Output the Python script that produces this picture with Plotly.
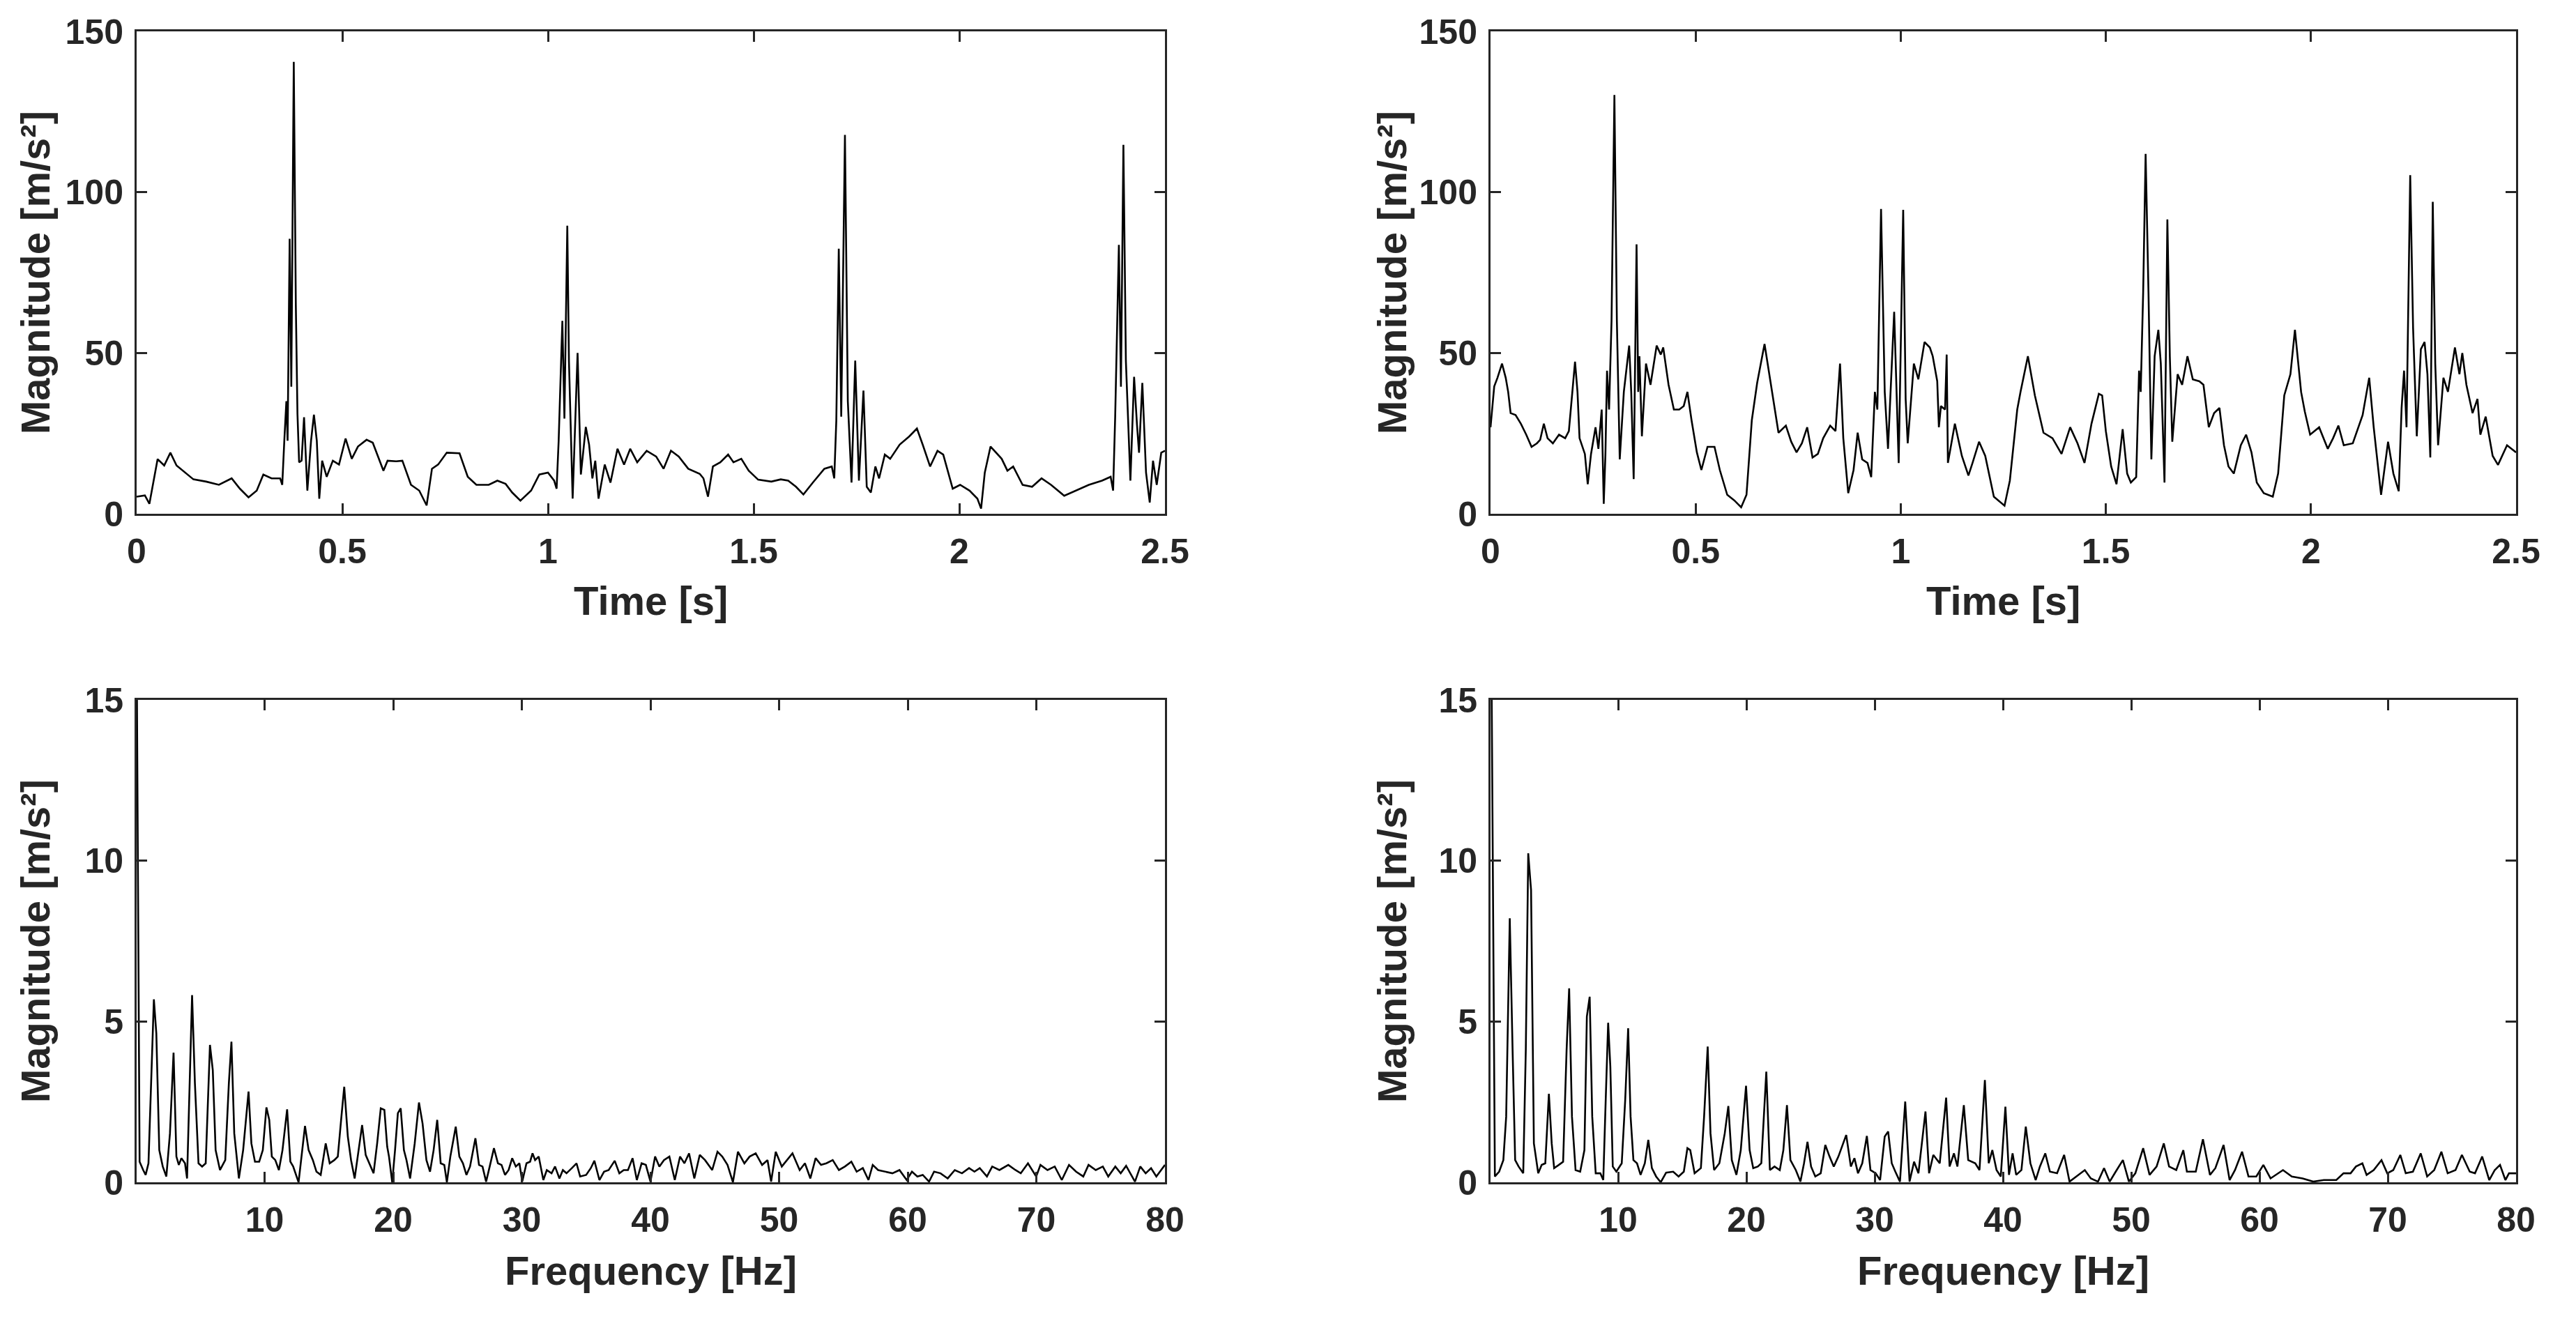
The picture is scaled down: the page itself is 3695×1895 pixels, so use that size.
import plotly.graph_objects as go

# ---------------- data ----------------
t_left = [0, 0.02, 0.031, 0.041, 0.051, 0.067, 0.082, 0.097, 0.118, 0.138, 0.169, 0.2, 0.231, 0.251, 0.272,
          0.292, 0.308, 0.328, 0.349, 0.354, 0.359, 0.364, 0.367, 0.372, 0.376, 0.382, 0.387, 0.391, 0.395,
          0.401, 0.407, 0.415, 0.424, 0.431, 0.438, 0.444, 0.451, 0.462, 0.477, 0.492, 0.508, 0.523, 0.538,
          0.559, 0.574, 0.59, 0.6, 0.61, 0.631, 0.646, 0.667, 0.687, 0.705, 0.718, 0.733, 0.754, 0.785, 0.805,
          0.826, 0.856, 0.877, 0.897, 0.913, 0.933, 0.959, 0.979, 1.0, 1.015, 1.021, 1.026, 1.035, 1.04, 1.047,
          1.051, 1.06, 1.072, 1.08, 1.092, 1.1, 1.108, 1.115, 1.123, 1.138, 1.152, 1.169, 1.185, 1.2, 1.217,
          1.24, 1.263, 1.281, 1.299, 1.318, 1.341, 1.369, 1.378, 1.389, 1.401, 1.419, 1.438, 1.451, 1.47,
          1.488, 1.511, 1.543, 1.566, 1.584, 1.603, 1.621, 1.644, 1.672, 1.69, 1.696, 1.701, 1.707, 1.713,
          1.722, 1.729, 1.738, 1.747, 1.756, 1.767, 1.775, 1.785, 1.796, 1.805, 1.819, 1.832, 1.855, 1.878,
          1.897, 1.911, 1.929, 1.947, 1.961, 1.984, 2.002, 2.025, 2.044, 2.053, 2.062, 2.076, 2.09, 2.103,
          2.117, 2.131, 2.154, 2.177, 2.2, 2.223, 2.255, 2.283, 2.315, 2.347, 2.368, 2.374, 2.379, 2.388,
          2.393, 2.399, 2.405, 2.416, 2.425, 2.432, 2.437, 2.445, 2.454, 2.463, 2.471, 2.48, 2.491, 2.5]
acc_left = [5.3, 5.7, 3.1, 10, 17, 15, 19, 15, 12.8, 10.7, 10, 9, 11, 7.8, 5.1,
            7.2, 12.2, 11, 11, 9, 22.7, 35, 22.7, 85.5, 39.5, 140.5, 65, 31, 16,
            16.5, 30, 7.2, 22.7, 30.8, 22.7, 4.7, 16.5, 11.5, 16.5, 15.3, 23.4, 17.1, 20.9,
            23, 22.1, 16.5, 13.4, 16.5, 16.3, 16.5, 9, 7.2, 2.6, 14, 15.3, 19, 18.8, 11.5,
            9, 9, 10.3, 9.3, 6.6, 4.1, 7.2, 12.2, 12.8, 10.3, 7.8, 22.7, 60, 29.6, 89.6,
            47.6, 4.7, 50, 12.2, 27, 21.5, 11, 16.5, 4.7, 15.3, 9.7, 20.2, 15.3, 20.2, 16,
            19.6, 17.8, 14, 19.6, 17.8, 14, 12.4, 11, 5.3, 14.7, 16, 18.4, 16, 17.1,
            13.4, 10.6, 10, 10.7, 10.3, 8.4, 6, 9.7, 14, 14.7, 11, 28.9, 82.4, 30.2,
            117.8, 35, 9.7, 47.6, 10.3, 38.3, 8.4, 6.6, 14.7, 11, 18.4, 17.1, 21.5, 24,
            26.5, 21.5, 14.7, 19.6, 18.4, 7.8, 9, 7.2, 4.7, 1.6, 12.8, 20.9, 19, 17.1,
            13.4, 14.7, 9, 8.4, 11, 9, 5.6, 7.2, 9, 10.3, 11.5, 7.2, 30.2, 83.6,
            39.5, 114.7, 47.6, 10.3, 42.6, 27.7, 19, 40.7, 12.8, 3.5, 16.5, 9, 19, 19.6]

t_right = [0, 0.009, 0.017, 0.028, 0.037, 0.043, 0.049, 0.061, 0.074, 0.087, 0.1, 0.113, 0.121, 0.13, 0.139,
           0.152, 0.167, 0.182, 0.191, 0.199, 0.206, 0.212, 0.217, 0.23, 0.237, 0.245, 0.256, 0.263, 0.271,
           0.276, 0.28, 0.284, 0.289, 0.295, 0.302, 0.308, 0.315, 0.325, 0.332, 0.338, 0.343, 0.349, 0.356,
           0.36, 0.363, 0.369, 0.379, 0.39, 0.405, 0.415, 0.421, 0.434, 0.447, 0.46, 0.471, 0.48, 0.49, 0.503,
           0.514, 0.529, 0.546, 0.559, 0.577, 0.594, 0.611, 0.624, 0.637, 0.65, 0.668, 0.688, 0.702, 0.72,
           0.733, 0.746, 0.759, 0.772, 0.785, 0.798, 0.811, 0.828, 0.841, 0.852, 0.86, 0.872, 0.885, 0.895,
           0.906, 0.919, 0.928, 0.937, 0.943, 0.952, 0.961, 0.969, 0.984, 0.995, 1.006, 1.012, 1.017, 1.032,
           1.043, 1.058, 1.071, 1.078, 1.089, 1.093, 1.098, 1.108, 1.112, 1.115, 1.132, 1.149, 1.165, 1.175,
           1.191, 1.206, 1.227, 1.253, 1.266, 1.284, 1.292, 1.31, 1.327, 1.348, 1.37, 1.392, 1.413, 1.431,
           1.448, 1.465, 1.483, 1.491, 1.5, 1.513, 1.526, 1.541, 1.552, 1.561, 1.574, 1.581, 1.585, 1.591,
           1.597, 1.604, 1.611, 1.619, 1.628, 1.634, 1.643, 1.65, 1.656, 1.662, 1.675, 1.686, 1.699, 1.712,
           1.728, 1.738, 1.751, 1.764, 1.777, 1.788, 1.799, 1.812, 1.829, 1.842, 1.855, 1.868, 1.885, 1.907,
           1.92, 1.935, 1.95, 1.961, 1.97, 1.976, 1.985, 1.998, 2.02, 2.041, 2.054, 2.067, 2.08, 2.102, 2.126,
           2.142, 2.153, 2.171, 2.188, 2.201, 2.214, 2.221, 2.227, 2.233, 2.242, 2.249, 2.258, 2.268, 2.277,
           2.284, 2.291, 2.297, 2.303, 2.31, 2.323, 2.334, 2.351, 2.362, 2.369, 2.379, 2.394, 2.406, 2.413,
           2.426, 2.443, 2.456, 2.478, 2.5]
acc_right = [26.9, 39.6, 42.3, 46.7, 42.3, 37.9, 31.3, 30.7, 28, 24.6, 20.8, 21.9, 23, 28, 23.5,
             21.9, 24.6, 23.5, 25.7, 37.9, 47.3, 37.9, 23.5, 18.6, 9.2, 18.6, 26.9, 20.2, 32.4,
             3.1, 18, 44.5, 32.4, 60, 130.2, 60, 16.9, 37.9, 45.6, 52.3, 37.9, 10.8, 83.8,
             37.9, 49, 24.1, 46.7, 40.1, 52.3, 49.5, 51.7, 40.1, 32.4, 32.4, 33.5, 37.9, 29.1, 19.1,
             13.6, 20.8, 20.8, 13.6, 5.9, 4.2, 2, 5.9, 29.1, 40.7, 52.8, 36.8, 25.2, 27.4,
             22.4, 19.1, 21.9, 26.9, 17.5, 18.6, 23.5, 27.4, 25.7, 46.7, 23.5, 6.4, 13.6, 25.2,
             16.9, 15.8, 11.4, 37.9, 32.4, 94.8, 37.9, 20.2, 62.8, 15.8, 94.5, 35.7, 21.9, 46.7,
             41.8, 53.4, 51.7, 49, 41.2, 26.9, 33.5, 32.4, 49.5, 15.8, 28, 18, 11.9, 15.8,
             22.4, 18, 5.3, 2.5, 10.3, 32.4, 37.9, 49, 36.8, 25.2, 23.5, 18.6, 26.9, 21.9,
             15.8, 28, 37.3, 36.8, 25.7, 14.7, 9.2, 26.3, 12.5, 9.7, 11.4, 44.5, 37.9, 68.8,
             111.9, 68.8, 16.9, 49, 57.2, 46.7, 9.7, 91.5, 49, 22.4, 43.4, 40.1, 49, 41.8,
             41.2, 40.1, 26.9, 31.3, 32.9, 21.3, 14.7, 12.5, 21.3, 24.6, 19.1, 9.7, 6.4, 5.3,
             12.5, 36.8, 43.4, 57.2, 45.6, 37.9, 31.8, 24.6, 26.9, 20.2, 23.5, 27.4, 21.3, 21.9, 30.7,
             42.3, 26.9, 5.9, 22.4, 12.5, 7, 32.9, 44.5, 26.9, 105.3, 57.8, 24.1, 51.2, 53.4,
             43.4, 17.5, 97, 46.7, 21.3, 42.3, 37.9, 51.7, 43.4, 50, 40.1, 31.3, 35.7, 24.6,
             30.2, 18, 15.2, 21.3, 19.1]

f_left = [0.06, 0.28, 0.56, 0.75, 0.97, 1.17, 1.39, 1.58, 1.81, 2.08, 2.36, 2.64, 2.92, 3.14, 3.33, 3.53,
          3.81, 3.97, 4.17, 4.36, 4.58, 4.86, 5.14, 5.42, 5.75, 5.97, 6.19, 6.53, 6.94, 7.22, 7.42, 7.64,
          8.0, 8.33, 8.75, 8.97, 9.25, 9.58, 9.86, 10.14, 10.36, 10.56, 10.83, 11.11, 11.39, 11.75, 12.0,
          12.22, 12.64, 12.92, 13.14, 13.42, 13.75, 14.03, 14.36, 14.75, 15.06, 15.42, 15.69, 15.97, 16.19,
          16.47, 16.72, 17.0, 17.31, 17.58, 17.86, 18.14, 18.47, 18.75, 19.03, 19.31, 19.53, 19.67, 19.92,
          20.14, 20.36, 20.58, 20.83, 21.03, 21.31, 21.67, 22.0, 22.28, 22.58, 22.86, 23.14, 23.42, 23.69,
          23.97, 24.17, 24.44, 24.86, 25.14, 25.42, 25.69, 25.97, 26.39, 26.67, 26.94, 27.22, 27.5, 27.83,
          28.14, 28.42, 28.69, 28.97, 29.25, 29.53, 29.81, 30.03, 30.36, 30.64, 30.83, 31.03, 31.31, 31.67,
          31.94, 32.31, 32.58, 32.92, 33.19, 33.47, 33.89, 34.25, 34.53, 35.0, 35.36, 35.64, 36.03, 36.39,
          36.75, 37.22, 37.58, 37.92, 38.25, 38.61, 38.94, 39.31, 39.64, 40.0, 40.36, 40.69, 41.05, 41.47,
          41.89, 42.3, 42.64, 43.0, 43.41, 43.83, 44.24, 44.8, 45.21, 45.58, 45.99, 46.41, 46.8, 47.3, 47.71,
          48.18, 48.68, 49.1, 49.38, 49.74, 50.21, 50.62, 51.04, 51.6, 52.01, 52.43, 52.84, 53.26, 53.68,
          54.17, 54.65, 55.12, 55.62, 56.03, 56.51, 56.95, 57.28, 57.7, 58.25, 58.81, 59.36, 59.92, 60.33,
          60.75, 61.17, 61.66, 62.05, 62.55, 63.11, 63.66, 64.22, 64.77, 65.19, 65.6, 66.16, 66.57, 67.13,
          67.82, 68.38, 68.79, 69.35, 69.99, 70.32, 70.87, 71.43, 71.98, 72.54, 73.09, 73.65, 74.06, 74.62,
          75.17, 75.59, 76.14, 76.56, 76.98, 77.67, 78.08, 78.5, 78.92, 79.33, 80.0]
spec_left = [16, 0.64, 0.38, 0.23, 0.59, 3.08, 5.69, 4.63, 1.0, 0.49, 0.18, 1.52, 4.03, 0.8, 0.54, 0.75,
             0.59, 0.12, 3.08, 5.82, 3.08, 0.59, 0.49, 0.59, 4.27, 3.49, 1.0, 0.38, 0.69, 3.08, 4.37, 1.52,
             0.12, 1.0, 2.82, 1.21, 0.64, 0.64, 1.0, 2.33, 1.94, 0.8, 0.69, 0.38, 1.0, 2.27, 0.64,
             0.49, 0.0, 1.0, 1.75, 1.0, 0.69, 0.33, 0.23, 1.21, 0.59, 0.69, 0.8, 2.04, 2.97,
             1.42, 0.69, 0.12, 1.0, 1.78, 0.85, 0.59, 0.28, 1.21, 2.3, 2.25, 1.11, 0.8, 0.0,
             1.0, 2.15, 2.3, 1.0, 0.69, 0.12, 1.21, 2.48, 1.83, 0.69, 0.33, 1.0, 1.94, 0.59,
             0.54, 0.0, 0.8, 1.73, 0.8, 0.59, 0.23, 0.49, 1.37, 0.54, 0.49, 0.02, 0.49, 1.06,
             0.59, 0.54, 0.23, 0.38, 0.75, 0.49, 0.59, 0.02, 0.59, 0.64, 0.9, 0.69, 0.8, 0.07,
             0.38, 0.28, 0.49, 0.12, 0.38, 0.28, 0.44, 0.59, 0.18, 0.23, 0.44, 0.67, 0.07, 0.33,
             0.38, 0.67, 0.28, 0.38, 0.38, 0.75, 0.07, 0.59, 0.54, 0.02, 0.8, 0.49, 0.69, 0.8,
             0.07, 0.8, 0.59, 0.9, 0.12, 0.85, 0.69, 0.38, 0.95, 0.8, 0.54, 0.0, 0.95, 0.59, 0.8,
             0.9, 0.54, 0.69, 0.02, 0.95, 0.49, 0.69, 0.9, 0.38, 0.59, 0.12, 0.75, 0.54, 0.59,
             0.69, 0.38, 0.49, 0.64, 0.33, 0.44, 0.07, 0.54, 0.38, 0.33, 0.28, 0.38, 0.07, 0.33,
             0.18, 0.23, 0.02, 0.33, 0.28, 0.12, 0.38, 0.28, 0.44, 0.33, 0.44, 0.18, 0.49, 0.38,
             0.54, 0.38, 0.28, 0.59, 0.18, 0.54, 0.38, 0.49, 0.07, 0.54, 0.33, 0.18, 0.54, 0.38,
             0.49, 0.18, 0.49, 0.28, 0.51, 0.02, 0.49, 0.28, 0.44, 0.18, 0.54]

f_right = [0.06, 0.39, 0.72, 1.05, 1.27, 1.55, 1.77, 1.97, 2.24, 2.6, 2.8, 2.99, 3.21, 3.43, 3.77, 4.04,
           4.32, 4.6, 4.82, 5.01, 5.37, 5.71, 5.98, 6.18, 6.4, 6.68, 7.04, 7.37, 7.56, 7.78, 7.98, 8.25,
           8.61, 8.84, 9.03, 9.22, 9.39, 9.58, 9.86, 10.28, 10.55, 10.78, 10.97, 11.19, 11.47, 11.75, 12.08,
           12.35, 12.63, 12.96, 13.32, 13.74, 14.29, 14.71, 15.12, 15.4, 15.62, 15.96, 16.45, 16.7, 16.98,
           17.2, 17.48, 17.89, 18.31, 18.59, 18.86, 19.22, 19.56, 19.97, 20.25, 20.53, 20.89, 21.16, 21.55,
           21.83, 22.19, 22.6, 22.88, 23.16, 23.43, 23.85, 24.21, 24.49, 24.76, 25.04, 25.37, 25.79, 26.15,
           26.48, 26.81, 27.17, 27.78, 28.14, 28.42, 28.7, 29.03, 29.39, 29.67, 30.08, 30.42, 30.78, 31.05,
           31.33, 31.61, 31.97, 32.38, 32.72, 33.07, 33.41, 33.96, 34.24, 34.57, 35.07, 35.57, 35.84, 36.18,
           36.45, 36.95, 37.29, 37.84, 38.17, 38.59, 38.89, 39.17, 39.5, 39.83, 40.19, 40.47, 40.75, 41.03,
           41.44, 41.78, 42.14, 42.55, 42.88, 43.3, 43.66, 44.22, 44.77, 45.19, 45.74, 46.38, 46.85, 47.41,
           47.88, 48.32, 48.79, 49.35, 49.82, 50.32, 50.93, 51.43, 51.98, 52.54, 52.95, 53.51, 54.06, 54.34,
           55.03, 55.59, 56.14, 56.56, 57.2, 57.67, 58.09, 58.64, 59.14, 59.75, 60.3, 60.86, 61.83, 62.52,
           63.36, 64.19, 65.02, 65.99, 66.55, 67.1, 67.52, 68.02, 68.35, 68.9, 69.51, 69.96, 70.43, 70.98,
           71.4, 71.96, 72.57, 73.07, 73.62, 74.18, 74.67, 75.28, 75.78, 76.39, 76.8, 77.36, 77.91, 78.34,
           78.75, 79.17, 79.45, 80.0]
spec_right = [20, 0.18, 0.33, 0.69, 2.04, 8.21, 4.11, 0.69, 0.49, 0.28, 4.11, 10.23, 9.09, 1.21, 0.28, 0.54,
              0.59, 2.75, 1.21, 0.44, 0.54, 0.64, 4.11, 6.03, 2.04, 0.38, 0.33, 1.0, 5.15, 5.77, 2.04, 0.28,
              0.28, 0.07, 2.56, 4.96, 3.6, 0.49, 0.33, 0.59, 2.56, 4.79, 2.04, 0.69, 0.59, 0.23, 0.59,
              1.32, 0.44, 0.18, 0.0, 0.3, 0.33, 0.18, 0.33, 1.06, 1.0, 0.28, 0.44, 2.04, 4.22,
              1.52, 0.38, 0.59, 1.52, 2.37, 0.69, 0.23, 1.0, 3.0, 1.0, 0.44, 0.49, 0.59, 3.44,
              0.38, 0.49, 0.38, 1.0, 2.4, 0.69, 0.38, 0.02, 0.59, 1.26, 0.49, 0.18, 0.28, 1.16,
              0.8, 0.49, 0.8, 1.47, 0.49, 0.75, 0.28, 0.59, 1.44, 0.38, 0.28, 0.07, 1.42, 1.58,
              0.59, 0.33, 0.02, 2.51, 0.02, 0.64, 0.28, 2.2, 0.28, 0.85, 0.59, 2.63, 0.49, 0.9,
              0.49, 2.4, 0.69, 0.59, 0.38, 3.18, 0.59, 1.0, 0.38, 0.18, 2.35, 0.23, 0.9, 0.23,
              0.38, 1.73, 0.59, 0.07, 0.49, 0.9, 0.33, 0.28, 0.85, 0.02, 0.18, 0.38, 0.12, 0.02,
              0.44, 0.02, 0.33, 0.69, 0.02, 0.28, 1.06, 0.23, 0.49, 1.21, 0.49, 0.38, 1.0, 0.33,
              0.33, 1.34, 0.23, 0.44, 1.16, 0.07, 0.38, 0.95, 0.18, 0.18, 0.54, 0.12, 0.38, 0.18,
              0.12, 0.02, 0.07, 0.07, 0.28, 0.28, 0.49, 0.59, 0.23, 0.38, 0.69, 0.28, 0.38, 0.85,
              0.28, 0.33, 0.9, 0.18, 0.38, 0.95, 0.28, 0.38, 0.85, 0.33, 0.28, 0.8, 0.07, 0.38,
              0.54, 0.07, 0.28, 0.28]

time_ticks = [0, 0.5, 1, 1.5, 2, 2.5]
time_tick_text = ["0", "0.5", "1", "1.5", "2", "2.5"]
freq_ticks = [10, 20, 30, 40, 50, 60, 70, 80]
acc_ticks = [0, 50, 100, 150]
spec_ticks = [0, 5, 10, 15]

y_title = "Magnitude [m/s²]"
x_title_time = "Time [s]"
x_title_freq = "Frequency [Hz]"

# ---------------- layout geometry ----------------
W, H = 3695, 1895
INK = "#262626"
FONT = "Liberation Sans, Arial, Helvetica, sans-serif"

def xdom(l, r):
    return [l / W, r / W]

def ydom(top, bottom):
    return [1 - bottom / H, 1 - top / H]

XL, XR = xdom(196, 1671), xdom(2138, 3609)
YT, YB = ydom(45, 737), ydom(1004, 1696)

fig = go.Figure()
series = [
    (t_left, acc_left, "x", "y"),
    (t_right, acc_right, "x2", "y2"),
    (f_left, spec_left, "x3", "y3"),
    (f_right, spec_right, "x4", "y4"),
]
for xs, ys, xa, ya in series:
    fig.add_trace(go.Scatter(x=xs, y=ys, xaxis=xa, yaxis=ya, mode="lines",
                             line=dict(color="#000000", width=2.6), showlegend=False,
                             cliponaxis=True))

tickfont = dict(family=FONT, size=50, color=INK, weight="bold")

def axis_common():
    return dict(showline=True, linecolor=INK, linewidth=3, mirror="ticks",
                ticks="inside", ticklen=15, tickwidth=3, tickcolor=INK,
                showgrid=False, zeroline=False, tickfont=tickfont, automargin=False)

layout = dict(width=W, height=H, plot_bgcolor="white", paper_bgcolor="white",
              margin=dict(l=0, r=0, t=0, b=0), showlegend=False)

for name, dom, anchor, rng, tv, tt in [
    ("xaxis", XL, "y", [0, 2.5], time_ticks, time_tick_text),
    ("xaxis2", XR, "y2", [0, 2.5], time_ticks, time_tick_text),
    ("xaxis3", XL, "y3", [0.05, 80], freq_ticks, [str(v) for v in freq_ticks]),
    ("xaxis4", XR, "y4", [0.05, 80], freq_ticks, [str(v) for v in freq_ticks]),
]:
    a = axis_common()
    a.update(domain=dom, anchor=anchor, range=rng, tickvals=tv, ticktext=tt, ticklabelstandoff=8)
    layout[name] = a

for name, dom, anchor, rng, tv in [
    ("yaxis", YT, "x", [0, 150], acc_ticks),
    ("yaxis2", YT, "x2", [0, 150], acc_ticks),
    ("yaxis3", YB, "x3", [0, 15], spec_ticks),
    ("yaxis4", YB, "x4", [0, 15], spec_ticks),
]:
    a = axis_common()
    a.update(domain=dom, anchor=anchor, range=rng, tickvals=tv, ticktext=[str(v) for v in tv],
             ticklabelstandoff=6)
    layout[name] = a

fig.update_layout(**layout)

titlefont = dict(family=FONT, size=58, color=INK, weight="bold")
ann = []
for cx in (50, 1996):
    for cy in (391, 1350):
        ann.append(dict(x=cx / W, y=1 - cy / H, xref="paper", yref="paper", text=y_title,
                        textangle=-90, showarrow=False, font=titlefont,
                        xanchor="center", yanchor="middle"))
for cx in ((196 + 1671) / 2, (2138 + 3609) / 2):
    ann.append(dict(x=cx / W, y=1 - 862 / H, xref="paper", yref="paper", text=x_title_time,
                    showarrow=False, font=titlefont, xanchor="center", yanchor="middle"))
    ann.append(dict(x=cx / W, y=1 - 1822 / H, xref="paper", yref="paper", text=x_title_freq,
                    showarrow=False, font=titlefont, xanchor="center", yanchor="middle"))
fig.update_layout(annotations=ann)

fig.write_html("out.html", config={"displayModeBar": False},
               post_script="document.body.style.margin='0';document.body.style.overflow='hidden';")
